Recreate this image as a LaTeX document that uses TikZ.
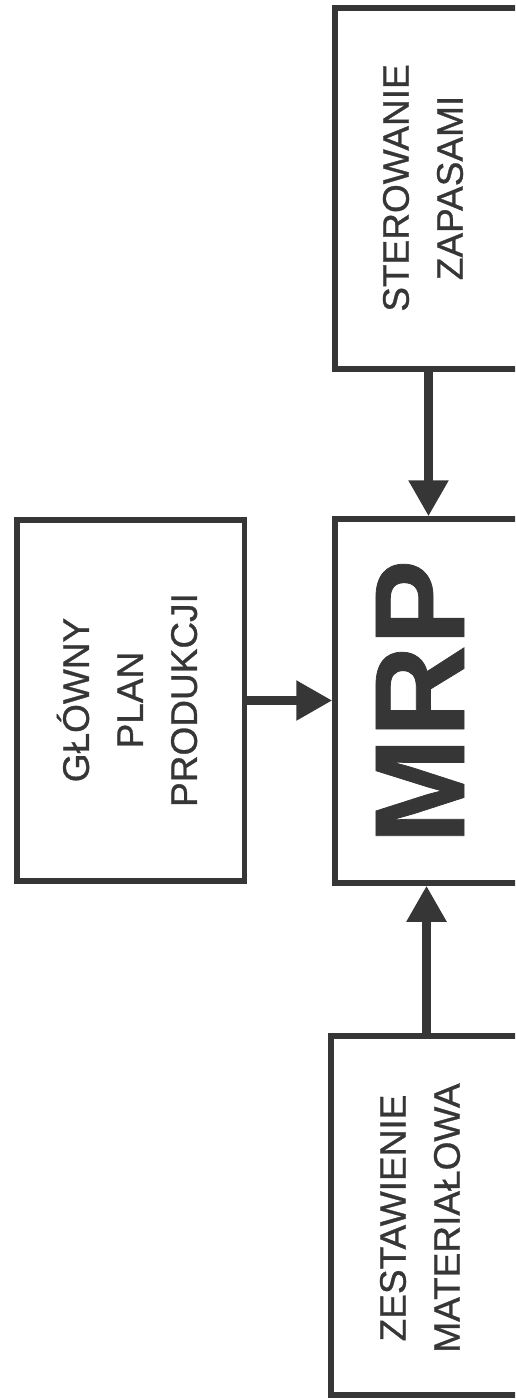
\documentclass[tikz,border=0pt]{standalone}
\usepackage{fontspec}
\setmainfont{Liberation Sans}
\newfontfamily\boxfont{Liberation Sans}[FakeBold=0.8]
\newfontfamily\mrpfont{Liberation Sans Bold}[FakeBold=0.6]
\usetikzlibrary{arrows.meta}
\definecolor{ink}{HTML}{363636}
\begin{document}
\begin{tikzpicture}[x=1pt,y=-1pt,
  block/.style={draw=ink, line width=5.5pt, fill=white, rectangle, inner sep=0pt},
  label/.style={rotate=90, align=center, text=ink,
    font={\boxfont\fontsize{37}{54}\selectfont}},
  flow/.style={draw=ink, line width=8.5pt,
    -{Triangle[length=36pt,width=38pt]}}]
  % page frame
  \useasboundingbox (0,0) rectangle (515,1399);
  \fill[white] (0,0) rectangle (515,1399);
  \clip (0,0) rectangle (515,1399);

  % blocks
  \node[block, minimum width=187pt, minimum height=361pt] (ster) at (428.5,188.5) {};
  \node[block, minimum width=187pt, minimum height=364pt] (mrp) at (428.5,701) {};
  \node[block, minimum width=227.5pt, minimum height=361pt] (plan) at (130.75,700.5) {};
  \node[block, minimum width=191pt, minimum height=359pt] (bom) at (426.5,1215.5) {};

  % texts
  \node[label] (tster) at (423,188) {STEROWANIE\\ZAPASAMI};
  \node[label] (tplan) at (127,700) {GŁÓWNY\\PLAN\\PRODUKCJI};
  \node[label] (tbom) at (420,1218) {ZESTAWIENIE\\MATERIAŁOWA};
  \node[rotate=90, text=ink, inner sep=0pt,
    font={\mrpfont\fontsize{128}{128}\selectfont}] (tmrp) at (420,702) {MRP};

  % connectors
  \draw[flow] (ster.south) -- (mrp.north);
  \draw[flow] (plan.east) -- (plan.east -| mrp.west);
  \draw[flow] (bom.north) -- (bom.north |- mrp.south);
\end{tikzpicture}
\end{document}
